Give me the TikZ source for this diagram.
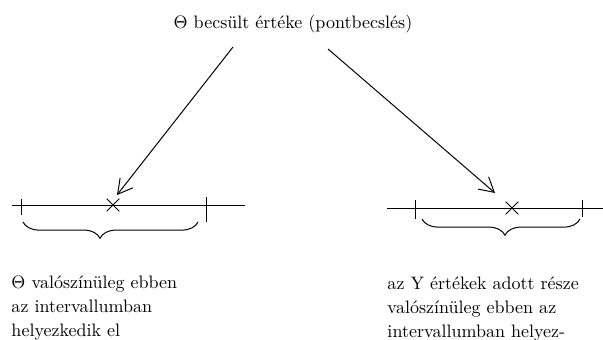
\documentclass[tikz,border=0pt]{standalone}
\usetikzlibrary{arrows.meta,decorations.pathreplacing,shapes.misc}
\begin{document}
\begin{tikzpicture}[x=0.555pt, y=-0.555pt, line width=0.55pt,
    barb/.style={-{Straight Barb[length=8pt,width=9pt]}},
    xmark/.style={cross out, draw, minimum size=6.5pt, inner sep=0pt},
    curly/.style={decorate, decoration={brace, mirror, amplitude=9pt, aspect=#1}},
    note/.style={align=left, inner sep=0pt, anchor=north west,
      font=\fontsize{10}{13.4}\selectfont}]
    \useasboundingbox (0,0) rectangle (603,340);

    % point estimate
    \node (est) at (293,24) {$\Theta$ becsült értéke (pontbecslés)};
    \coordinate (lfrom) at (233,47);
    \coordinate (rfrom) at (328,49);
    \coordinate (lto) at (117,195);
    \coordinate (rto) at (495,193);
    \draw[barb] (lfrom) -- (lto);
    \draw[barb] (rfrom) -- (rto);

    % left interval
    \draw (12,205) -- (245,205);
    \draw (21,199) -- (21,215);
    \draw (206,197) -- (206,222);
    \node[xmark] (lx) at (113,205) {};
    \draw[curly=0.44] (23,222) -- (198,222);

    % right interval
    \draw (387,208) -- (603,208);
    \draw (415,200) -- (415,219);
    \draw (582,200) -- (582,217);
    \node[xmark] (rx) at (512,208) {};
    \draw[curly=0.525] (422,219) -- (580,219);

    \node[note] (lnote) at (11,275) {$\Theta$ valószínüleg ebben\\az intervallumban\\helyezkedik el};
    \node[note] (rnote) at (387,276) {az Y értékek adott része\\valószínüleg ebben az\\intervallumban helyez-};
\end{tikzpicture}
\end{document}
